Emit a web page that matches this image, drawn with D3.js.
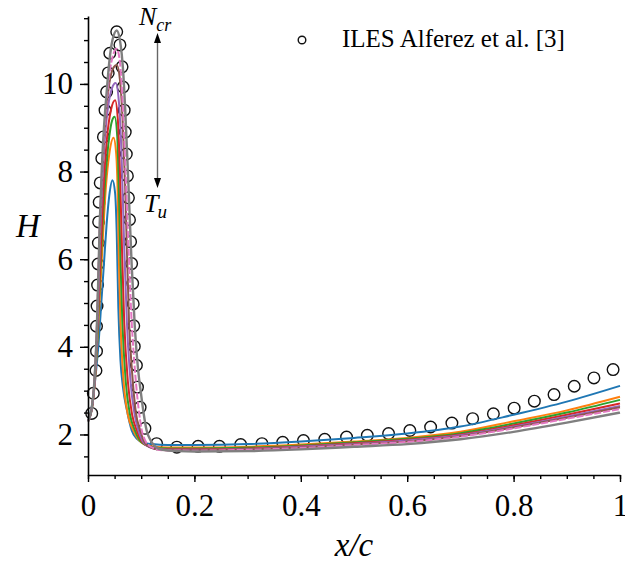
<!DOCTYPE html>
<html><head><meta charset="utf-8">
<script src="https://cdn.jsdelivr.net/npm/d3@7"></script>
<style>
body{margin:0;background:#fff}
svg{display:block}
#chart text{font-family:"Liberation Serif" !important;}
</style>
</head><body>
<svg id="chart" width="625" height="567" font-family="Liberation Serif"></svg>
<script>
// ---------- data ----------
const xTicks = [0, 0.2, 0.4, 0.6, 0.8, 1];
const xTickLabels = ["0", "0.2", "0.4", "0.6", "0.8", "1"];
const yTicks = [2, 4, 6, 8, 10];
const yTickLabels = ["2", "4", "6", "8", "10"];

const seriesColors = ["#1f77b4", "#ff7f0e", "#2ca02c", "#d62728", "#9467bd", "#8c564b", "#e377c2", "#7f7f7f"];

const sBlue = [[0,2.3],[0.008,2.7],[0.014,3.3],[0.02,4.1],[0.025,5.0],[0.03,5.9],[0.035,6.8],[0.04,7.45],[0.046,7.8],[0.051,7.5],[0.054,6.6],[0.057,4.9],[0.061,3.7],[0.066,3.05],[0.073,2.56],[0.082,2.1],[0.092,1.9],[0.105,1.81],[0.12,1.78],[0.15,1.76],[0.2,1.76],[0.3,1.78],[0.4,1.84],[0.5,1.92],[0.6,2.02],[0.7,2.18],[0.8,2.45],[0.9,2.75],[1,3.11]];
const sOrange = [[0,2.3],[0.008,2.65],[0.013,3.2],[0.018,4.2],[0.023,5.3],[0.028,6.5],[0.034,7.7],[0.04,8.4],[0.048,8.77],[0.053,8.4],[0.056,7.4],[0.058,6.0],[0.061,4.6],[0.067,3.2],[0.075,2.45],[0.085,2.1],[0.095,1.88],[0.105,1.78],[0.12,1.73],[0.15,1.70],[0.2,1.70],[0.3,1.72],[0.4,1.77],[0.5,1.84],[0.6,1.92],[0.7,2.06],[0.8,2.30],[0.9,2.55],[1,2.86]];
const sGreen = [[0,2.3],[0.008,2.65],[0.013,3.3],[0.018,4.3],[0.022,5.4],[0.027,6.7],[0.033,7.9],[0.04,8.8],[0.045,9.15],[0.05,9.25],[0.055,8.8],[0.058,7.6],[0.061,6.0],[0.0645,4.6],[0.071,3.2],[0.079,2.45],[0.088,2.1],[0.097,1.87],[0.108,1.76],[0.125,1.70],[0.15,1.68],[0.2,1.68],[0.3,1.70],[0.4,1.75],[0.5,1.82],[0.6,1.90],[0.7,2.03],[0.8,2.25],[0.9,2.50],[1,2.79]];
const sRed = [[0,2.3],[0.008,2.65],[0.013,3.3],[0.017,4.2],[0.021,5.3],[0.025,6.5],[0.03,7.8],[0.036,8.8],[0.043,9.4],[0.051,9.63],[0.056,9.2],[0.06,8.0],[0.064,6.2],[0.068,4.6],[0.075,3.2],[0.083,2.45],[0.0915,2.1],[0.1,1.86],[0.11,1.75],[0.125,1.69],[0.15,1.66],[0.2,1.66],[0.3,1.68],[0.4,1.73],[0.5,1.80],[0.6,1.88],[0.7,2.00],[0.8,2.21],[0.9,2.45],[1,2.71]];
const sPurple = [[0,2.3],[0.008,2.65],[0.013,3.3],[0.017,4.3],[0.02,5.4],[0.023,6.6],[0.027,7.8],[0.032,8.8],[0.038,9.5],[0.045,9.9],[0.052,10.02],[0.058,9.6],[0.063,8.4],[0.068,6.3],[0.073,4.6],[0.08,3.2],[0.087,2.5],[0.0945,2.1],[0.102,1.86],[0.11,1.75],[0.125,1.68],[0.15,1.65],[0.2,1.65],[0.3,1.67],[0.4,1.72],[0.5,1.78],[0.6,1.86],[0.7,1.98],[0.8,2.18],[0.9,2.41],[1,2.65]];
const sBrown = [[0,2.3],[0.007,2.6],[0.012,3.2],[0.016,4.2],[0.019,5.4],[0.022,6.6],[0.026,7.8],[0.03,8.7],[0.035,9.5],[0.04,10.0],[0.047,10.35],[0.054,10.43],[0.06,10.1],[0.065,9.2],[0.07,7.6],[0.077,4.6],[0.083,3.4],[0.09,2.5],[0.098,2.1],[0.105,1.85],[0.115,1.72],[0.13,1.66],[0.15,1.64],[0.2,1.64],[0.3,1.66],[0.4,1.70],[0.5,1.77],[0.6,1.84],[0.7,1.96],[0.8,2.16],[0.9,2.38],[1,2.62]];
const sPink = [[0,2.3],[0.007,2.6],[0.012,3.2],[0.016,4.2],[0.019,5.4],[0.022,6.7],[0.026,7.9],[0.03,8.8],[0.035,9.6],[0.04,10.2],[0.047,10.65],[0.054,10.8],[0.06,10.5],[0.065,9.6],[0.07,8.2],[0.076,6.3],[0.082,4.6],[0.088,3.5],[0.095,2.6],[0.101,2.1],[0.108,1.85],[0.115,1.74],[0.125,1.68],[0.14,1.64],[0.2,1.63],[0.3,1.65],[0.4,1.69],[0.5,1.76],[0.6,1.83],[0.7,1.95],[0.8,2.14],[0.9,2.36],[1,2.58]];
const sGray = [[0,2.3],[0.007,2.6],[0.012,3.2],[0.016,4.2],[0.019,5.4],[0.022,6.8],[0.026,8.1],[0.03,9.0],[0.035,9.8],[0.04,10.5],[0.046,11.0],[0.054,11.22],[0.06,11.0],[0.066,10.3],[0.07,9.4],[0.075,8.0],[0.082,5.9],[0.088,4.45],[0.094,3.5],[0.1,2.9],[0.105,2.45],[0.11,2.1],[0.117,1.88],[0.125,1.74],[0.14,1.65],[0.17,1.62],[0.2,1.61],[0.3,1.62],[0.4,1.66],[0.5,1.72],[0.6,1.78],[0.7,1.89],[0.8,2.06],[0.9,2.27],[1,2.5]];

const seriesData = [sBlue, sOrange, sGreen, sRed, sPurple, sBrown, sPink, sGray];
const seriesDash = [null, null, null, null, null, null, "7,2", null];

// ILES Alferez et al. [3] reference points
const refX = [0.007,0.010,0.015,0.016,0.016,0.017,0.018,0.019,0.0195,0.020,0.021,0.023,0.026,0.029,0.032,0.035,0.038,0.041,0.054,
              0.060,0.064,0.066,0.068,0.070,0.072,0.074,0.076,0.078,0.080,0.082,0.084,0.085,0.086,0.087,0.091,0.093,0.098,0.107,
              0.129,0.167,0.207,0.247,0.287,0.327,0.366,0.405,0.445,0.486,0.525,0.565,0.605,0.644,0.684,0.723,0.762,0.801,0.839,0.876,0.914,0.951,0.987];
const refH = [2.48,2.94,3.46,3.90,4.47,4.93,5.41,5.89,6.37,6.85,7.30,7.74,8.30,8.79,9.40,9.82,10.25,10.70,11.19,
              10.89,10.39,9.93,9.40,8.90,8.40,7.90,7.40,6.90,6.40,5.90,5.45,4.98,4.48,4.01,3.58,3.08,2.62,2.14,
              1.79,1.71,1.73,1.73,1.77,1.79,1.82,1.86,1.89,1.94,1.98,2.02,2.09,2.17,2.26,2.36,2.47,2.60,2.76,2.91,3.10,3.29,3.48];

const legendLabel = "ILES Alferez et al. [3]";

// ---------- drawing ----------
const svg = d3.select("#chart");
const x = d3.scaleLinear().domain([0, 1]).range([88, 620]);
const y = d3.scaleLinear().domain([1.075, 11.55]).range([475, 16]);

// reference circles (under lines)
svg.append("g").selectAll("circle").data(refX.map((d, i) => [d, refH[i]])).join("circle")
  .attr("cx", d => x(d[0])).attr("cy", d => y(d[1])).attr("r", 5.8)
  .attr("fill", "none").attr("stroke", "#111").attr("stroke-width", 1.4);

const line = d3.line().x(d => x(d[0])).y(d => y(d[1])).curve(d3.curveMonotoneX);
svg.append("g").selectAll("path").data(seriesData).join("path")
  .attr("d", d => line(d)).attr("fill", "none")
  .attr("stroke", (d, i) => seriesColors[i])
  .attr("stroke-width", (d, i) => i === 7 ? 2.4 : 2)
  .attr("stroke-dasharray", (d, i) => seriesDash[i]);

// axes
const xMinor = svg.append("g").attr("transform", "translate(0,475)")
  .call(d3.axisBottom(x).tickValues(d3.range(0, 1.0001, 0.05)).tickSize(4).tickFormat(""));
const xAxis = svg.append("g").attr("transform", "translate(0,475)")
  .call(d3.axisBottom(x).tickValues(xTicks).tickSize(7).tickSizeOuter(0).tickPadding(6)
    .tickFormat((d, i) => xTickLabels[i]));
const yMinor = svg.append("g").attr("transform", "translate(88,0)")
  .call(d3.axisLeft(y).tickValues(d3.range(1.5, 11.51, 0.5)).tickSize(4).tickFormat(""));
const yAxis = svg.append("g").attr("transform", "translate(88,0)")
  .call(d3.axisLeft(y).tickValues(yTicks).tickSize(8).tickSizeOuter(0).tickPadding(7)
    .tickFormat((d, i) => yTickLabels[i]));
[xMinor, xAxis, yMinor, yAxis].forEach(g => {
  g.attr("font-family", "Liberation Serif").attr("font-size", 31);
  g.selectAll("path").attr("stroke", "#000").attr("stroke-width", 1.6);
  g.selectAll("line").attr("stroke", "#000").attr("stroke-width", 1.4);
  g.selectAll("text").attr("font-family", "Liberation Serif").attr("fill", "#000");
});
xMinor.select("path").remove();
yMinor.select("path").remove();
xAxis.selectAll("text").attr("dy", "0.9em");

// axis titles
svg.append("text").attr("x", 354).attr("y", 556).attr("text-anchor", "middle")
  .attr("font-family", "Liberation Serif").attr("font-style", "italic").attr("font-size", 33).text("x/c");
svg.append("text").attr("x", 28).attr("y", 237).attr("text-anchor", "middle")
  .attr("font-family", "Liberation Serif").attr("font-style", "italic").attr("font-size", 33).text("H");

// legend
svg.append("circle").attr("cx", 302).attr("cy", 40).attr("r", 3.8)
  .attr("fill", "none").attr("stroke", "#111").attr("stroke-width", 1.4);
svg.append("text").attr("x", 342).attr("y", 47).attr("font-family", "Liberation Serif").attr("font-size", 25)
  .text(legendLabel);

// annotation arrow N_cr <-> T_u
const ax = 157.5;
svg.append("line").attr("x1", ax).attr("x2", ax).attr("y1", 40).attr("y2", 181)
  .attr("stroke", "#666").attr("stroke-width", 1.4);
svg.append("path").attr("d", `M${ax},33 L${ax-3.5},43 L${ax+3.5},43 Z`).attr("fill", "#000");
svg.append("path").attr("d", `M${ax},188 L${ax-3.5},178 L${ax+3.5},178 Z`).attr("fill", "#000");

const nt = svg.append("text").attr("x", 139).attr("y", 25).attr("font-family", "Liberation Serif")
  .attr("font-style", "italic").attr("font-size", 26);
nt.append("tspan").text("N");
nt.append("tspan").attr("font-size", 18).attr("dy", 6).text("cr");
const tt = svg.append("text").attr("x", 144).attr("y", 212).attr("font-family", "Liberation Serif")
  .attr("font-style", "italic").attr("font-size", 26);
tt.append("tspan").text("T");
tt.append("tspan").attr("font-size", 19).attr("dy", 6).attr("dx", -1).text("u");
</script>
</body></html>
